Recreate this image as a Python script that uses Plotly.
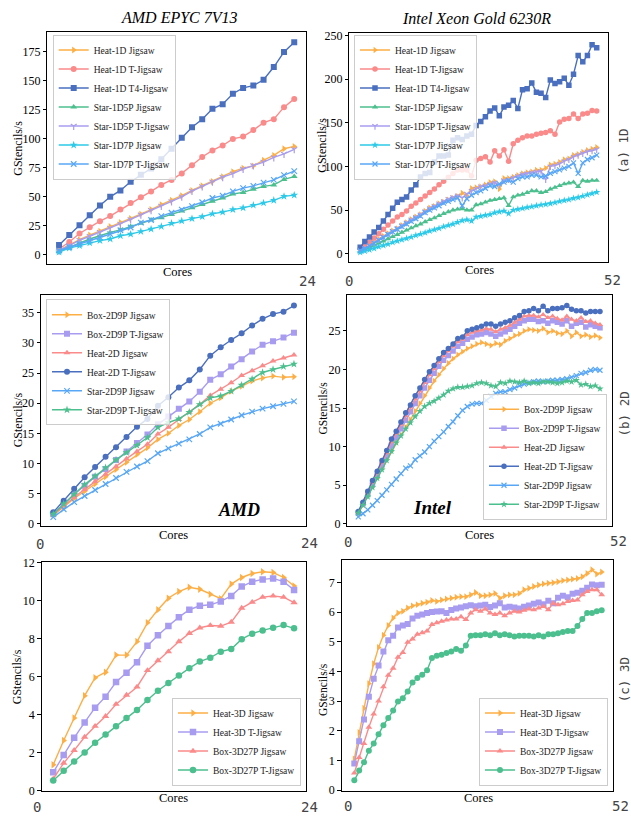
import plotly.graph_objects as go

W, H = 631, 826
SERIF = "Liberation Serif, Times New Roman, serif"
MONO = "DejaVu Sans Mono, monospace"

ORANGE = "#FDAF45"
SALMON = "#FB8A8A"
BLUE = "#4A6FBF"
GREEN = "#4CBF8E"
LAVENDER = "#A89CF0"
CYAN = "#2CCAE8"
LIGHTBLUE = "#58A7F7"

# ---------------- data ----------------
cores_amd = list(range(1, 25))
cores_intel = list(range(1, 53))

# (a) 1D, AMD
amd1d_heat_jig = [3.7, 8.5, 13, 17, 20.4, 24.4, 27.8, 31.4, 35.1, 39, 43.3, 47, 51, 55.5, 59.5, 63.2,
                  67.4, 71.7, 74.8, 76.7, 81.6, 85.8, 91.5, 93.5]
amd1d_heat_tj = [5, 11, 18.4, 23.8, 29, 33.4, 39, 44.7, 49.6, 54.7, 60.3, 64.6, 70.2, 77.3, 84.4, 90,
                 94.3, 100, 102, 107.6, 114, 117, 127.4, 134.5]
amd1d_heat_t4 = [8.5, 17, 25.5, 34, 42.5, 50, 55.5, 63, 69, 74.5, 82.4, 91.5, 101, 110, 117, 126,
                 130, 139, 144, 146, 151, 162, 175, 183.5]
amd1d_star5_jig = [2.8, 6.5, 10.2, 13.6, 16.4, 19.3, 21.5, 24.4, 27.2, 30, 32, 34.8, 37.7, 40.5, 43.3,
                   46.2, 49, 52.4, 53.8, 56.6, 59, 60.3, 65, 67.5]
amd1d_star5_tj = [3.5, 8, 12.5, 16, 19.5, 23, 26.5, 30.5, 34.5, 38.5, 42, 46, 50, 55, 59, 63, 67, 70,
                  74, 77, 80, 84, 87, 91]
amd1d_star7_jig = [2.3, 5.7, 7.9, 10.2, 12.2, 13.6, 16.4, 17.8, 20.1, 22.1, 24.4, 27.2, 29.2, 31.2,
                   32.9, 35.4, 36.8, 39, 40.5, 42.8, 44.7, 47, 50.4, 51.5]
amd1d_star7_tj = [3.7, 6.5, 9.3, 12.2, 15, 17.8, 21.2, 23.5, 27.8, 30, 33.4, 36.3, 39, 42, 45.3, 49,
                  51, 54.7, 57.5, 59.5, 62.3, 64.6, 68.8, 72.2]

# (a) 1D, Intel
intel1d_heat_jig = [3.8, 6.4, 9.4, 13.2, 16.9, 20, 23.3, 26.3, 29, 32.7, 35.7, 39.5, 42.5, 45, 49, 52.6,
                    54.5, 57.5, 59.4, 62, 64, 66, 69.5, 66.5, 75, 76, 77, 79, 82, 82.7, 74, 86.5,
                    86.5, 88, 90, 92, 93, 94, 96, 96, 98, 102, 103, 105, 108, 109, 113, 114, 116.5,
                    118.5, 120, 122]
intel1d_heat_tj = [5.7, 9, 13, 18, 23, 28, 33, 37.6, 42, 45, 49, 54.5, 58, 62, 66, 70, 74, 79, 83, 87.6,
                   92, 96, 96, 96, 89, 107, 109, 111, 105, 118, 112, 119, 106, 126, 130, 133, 135,
                   135, 137, 138, 139, 141, 137, 151, 154, 155, 160, 155, 160, 161, 164, 163.5]
intel1d_heat_t4 = [7.5, 14, 19, 25, 30, 37.6, 45, 52, 59, 62, 65, 73, 79, 88, 92, 93, 105, 112, 112,
                   113, 130, 133, 131, 135, 137, 147, 151.5, 157, 163.5, 167, 158, 168, 170, 175.6,
                   166.5, 188, 189, 195.5, 185, 184, 179, 199, 195, 197, 201, 193, 205.6, 227, 220,
                   227, 239.5, 236]
intel1d_star5_jig = [2, 4.5, 7, 9.5, 12, 14.5, 17, 19.5, 22, 24.5, 27, 29.5, 32, 34, 36.5, 39, 41, 43.5,
                     46, 48, 50, 51, 51.5, 50, 50, 56, 57, 59, 61, 62, 63, 64, 55, 65, 67, 68, 70, 72,
                     72, 70, 71, 74, 76, 78, 80, 81, 82, 77, 84, 83, 84, 84]
intel1d_star5_tj = [3.5, 6.2, 9.2, 12.8, 16.5, 19.7, 23, 26, 29, 32.5, 35.7, 39, 42, 45, 48.5, 52, 54.5,
                    57.5, 60, 62.5, 64.5, 66.5, 64, 68.5, 72, 74.5, 77, 78, 80, 81.5, 79, 84, 85, 87,
                    89, 91, 92, 93, 94, 94.5, 85, 100, 101, 103, 106, 108, 111, 113, 115, 117, 118,
                    119.5]
intel1d_star7_jig = [1.5, 3, 4.5, 6, 8, 9.5, 11, 13, 14.5, 16, 17.5, 19, 21, 22.5, 24, 26, 27.5, 29, 31,
                     32.5, 34, 36, 38, 39, 37.5, 42, 43, 44, 45, 47, 48, 49, 46, 50, 51, 52, 53, 54,
                     55, 56, 56.5, 57.5, 58.5, 60, 61, 62, 63.5, 64.5, 66, 67.5, 69, 70.5]
intel1d_star7_tj = [3.5, 6, 9, 12, 15.5, 18.5, 22, 25, 28, 31, 34, 37, 40, 43, 47, 50, 52.5, 55, 58, 60,
                    62, 64, 55, 63, 67, 70, 72, 75, 78, 77, 80, 82, 84, 82, 86, 88, 88, 90, 90, 88,
                    89, 92, 94, 96, 98, 100, 104, 92, 104, 108, 110, 113]

# (b) 2D, AMD
amd2d_box_jig = [1.4, 2.8, 4.2, 5.4, 6.6, 7.8, 9.0, 10.2, 11.5, 12.6, 14.0, 15.0, 16.3, 17.3, 18.6,
                 20.0, 20.9, 22.0, 22.8, 23.7, 24.2, 24.5, 24.3, 24.4]
amd2d_box_tj = [1.6, 3.3, 4.9, 6.3, 7.8, 9.1, 10.6, 12.0, 13.4, 14.8, 16.5, 17.8, 19.1, 20.3, 21.9,
                23.9, 24.8, 26.1, 27.3, 28.6, 29.7, 30.3, 30.9, 31.7]
amd2d_heat_jig = [1.5, 3.0, 4.4, 5.7, 7.0, 8.2, 9.5, 10.8, 12.0, 13.2, 14.9, 16.0, 17.3, 18.5, 19.8,
                  21.3, 22.3, 23.4, 24.6, 25.4, 26.2, 27.0, 27.5, 28.0]
amd2d_heat_tj = [1.9, 3.8, 5.8, 7.7, 9.4, 11.1, 12.7, 14.4, 16.1, 17.4, 19.6, 21.0, 22.6, 23.8, 25.6,
                 27.9, 29.3, 30.5, 31.6, 32.9, 34.0, 34.8, 35.2, 36.2]
amd2d_star_jig = [1.1, 2.4, 3.6, 4.6, 5.6, 6.6, 7.6, 8.6, 9.5, 10.4, 11.7, 12.5, 13.3, 14.0, 14.9,
                  16.0, 16.6, 17.3, 18.0, 18.6, 19.1, 19.5, 19.9, 20.3]
amd2d_star_tj = [1.6, 3.3, 4.9, 6.5, 7.9, 9.3, 10.6, 11.8, 13.0, 14.3, 16.0, 16.8, 17.4, 18.5, 19.8,
                 20.9, 21.2, 22.0, 23.0, 24.0, 25.1, 25.6, 26.1, 26.5]

# (b) 2D, Intel
intel2d_box_jig = [1.3, 2.4, 3.6, 4.8, 5.9, 7.1, 8.3, 9.4, 10.5, 11.5, 12.5, 13.5, 14.6, 15.6, 16.6,
                   17.6, 18.5, 19.3, 20.1, 20.8, 21.4, 21.9, 22.3, 22.7, 23.0, 23.3, 23.5, 23.3, 23.1,
                   23.4, 23.2, 23.7, 24.0, 24.4, 24.6, 25.0, 25.2, 25.1, 25.0, 25.3, 24.8, 25.0, 24.7,
                   24.6, 25.0, 24.3, 24.8, 24.3, 24.5, 24.2, 24.4, 24.1]
intel2d_box_tj = [1.4, 2.6, 3.8, 5.1, 6.3, 7.6, 8.8, 10.1, 11.2, 12.3, 13.4, 14.5, 15.6, 16.6, 17.6,
                  18.6, 19.5, 20.4, 21.2, 21.8, 22.4, 23.0, 23.4, 23.9, 24.2, 24.5, 24.6, 24.8, 24.6,
                  24.3, 24.6, 24.9, 25.2, 25.6, 26.0, 26.3, 26.5, 26.5, 26.2, 26.3, 26.0, 26.3, 26.1,
                  25.9, 26.3, 25.6, 26.0, 26.1, 25.5, 25.8, 25.6, 25.4]
intel2d_heat_jig = [1.5, 2.7, 4.0, 5.4, 6.6, 8.0, 9.2, 10.6, 11.7, 12.9, 14.0, 15.1, 16.2, 17.2, 18.3,
                    19.3, 20.1, 21.0, 21.8, 22.4, 23.0, 23.6, 23.9, 24.5, 24.8, 25.0, 25.1, 25.3, 25.2,
                    24.9, 25.2, 25.4, 25.7, 26.1, 26.5, 26.9, 27.0, 27.0, 26.8, 27.1, 26.7, 26.9, 26.6,
                    26.4, 26.9, 26.5, 26.3, 26.7, 26.2, 26.3, 26.0, 25.8]
intel2d_heat_tj = [1.6, 2.8, 4.2, 5.6, 6.8, 8.2, 9.5, 11.0, 12.0, 13.2, 14.4, 15.4, 16.6, 17.6, 18.7,
                   19.7, 20.5, 21.4, 22.2, 22.7, 23.3, 24.0, 24.2, 25.0, 25.2, 25.4, 25.6, 25.9, 25.9,
                   25.6, 25.9, 26.1, 26.3, 26.7, 27.0, 27.5, 27.6, 27.9, 27.6, 28.2, 27.6, 27.9, 27.9,
                   28.0, 28.3, 27.8, 27.6, 27.6, 27.3, 27.5, 27.5, 27.5]
intel2d_star_jig = [0.9, 1.3, 1.8, 2.4, 3.0, 3.7, 4.4, 5.1, 5.8, 6.5, 7.2, 7.5, 8.3, 8.8, 9.3, 10.0,
                    10.7, 11.3, 11.9, 12.6, 13.2, 14.0, 14.7, 15.2, 15.5, 15.6, 15.6, 16.0, 16.5, 16.9,
                    17.1, 17.1, 17.4, 17.6, 17.9, 18.1, 18.3, 18.4, 18.5, 18.4, 18.5, 18.6, 18.6, 18.7,
                    18.8, 19.0, 19.2, 19.5, 19.6, 19.9, 20.0, 19.9]
intel2d_star_tj = [1.4, 2.4, 3.5, 4.7, 5.9, 7.0, 8.2, 9.4, 10.5, 11.4, 12.3, 13.1, 13.9, 14.6, 15.2,
                   15.6, 15.9, 16.3, 16.7, 17.2, 17.5, 17.7, 17.7, 17.8, 17.9, 18.2, 18.3, 18.2, 17.9,
                   17.8, 18.3, 18.2, 18.5, 18.4, 18.3, 18.5, 18.2, 18.3, 18.2, 18.4, 18.4, 18.3, 18.2,
                   18.3, 18.5, 18.4, 18.6, 18.0, 18.1, 17.8, 17.9, 17.5]

# (c) 3D, AMD
amd3d_heat_jig = [1.35, 2.63, 3.81, 4.99, 5.94, 6.23, 7.13, 7.13, 7.84, 8.83, 9.52, 10.13, 10.48, 10.7,
                  10.6, 10.34, 10.1, 10.87, 11.22, 11.43, 11.52, 11.48, 11.22, 10.77]
amd3d_heat_tj = [0.95, 1.87, 2.77, 3.58, 4.36, 4.94, 5.71, 6.2, 6.75, 7.62, 8.17, 8.66, 9.13, 9.52,
                 9.73, 9.78, 9.96, 10.25, 10.74, 11.0, 11.12, 11.17, 11.0, 10.56]
amd3d_box_jig = [0.6, 1.44, 2.11, 2.81, 3.38, 3.9, 4.54, 5.02, 5.45, 6.32, 6.84, 7.31, 7.84, 8.28, 8.57,
                 8.69, 8.66, 8.87, 9.61, 9.92, 10.18, 10.25, 10.18, 9.9]
amd3d_box_tj = [0.52, 1.04, 1.52, 1.99, 2.51, 2.94, 3.38, 3.81, 4.24, 4.76, 5.25, 5.66, 6.06, 6.44, 6.79,
                6.99, 7.31, 7.45, 7.97, 8.26, 8.43, 8.57, 8.71, 8.54]

# (c) 3D, Intel
intel3d_heat_jig = [1.05, 1.94, 2.76, 3.59, 4.26, 4.81, 5.22, 5.55, 5.8, 5.97, 6.03, 6.14, 6.21, 6.25,
                    6.3, 6.33, 6.39, 6.36, 6.41, 6.44, 6.47, 6.5, 6.52, 6.52, 6.58, 6.66, 6.55, 6.55,
                    6.58, 6.63, 6.47, 6.55, 6.58, 6.58, 6.63, 6.75, 6.8, 6.86, 6.91, 6.95, 6.97, 6.99,
                    7.02, 7.06, 7.08, 7.11, 7.13, 7.19, 7.3, 7.43, 7.28, 7.35]
intel3d_heat_tj = [0.9, 1.65, 2.38, 3.15, 3.75, 4.2, 4.67, 5.05, 5.2, 5.48, 5.55, 5.6, 5.78, 5.88, 5.92,
                   5.97, 6.0, 6.02, 6.03, 5.97, 6.07, 6.12, 6.15, 6.2, 6.23, 6.2, 6.22, 6.25, 6.17,
                   6.22, 6.3, 6.15, 6.18, 6.15, 6.12, 6.18, 6.22, 6.28, 6.32, 6.26, 6.38, 6.3, 6.48,
                   6.55, 6.5, 6.62, 6.65, 6.72, 6.82, 6.93, 6.9, 6.92]
intel3d_box_jig = [0.58, 1.1, 1.57, 2.12, 2.57, 3.0, 3.48, 3.87, 4.11, 4.48, 4.64, 4.98, 5.09, 5.25,
                   5.3, 5.36, 5.58, 5.64, 5.69, 5.73, 5.77, 5.77, 5.84, 5.75, 5.97, 6.08, 6.03, 6.1,
                   5.97, 5.92, 5.97, 5.88, 5.97, 6.03, 6.0, 6.06, 6.1, 6.08, 6.14, 6.19, 6.08, 6.3,
                   6.25, 6.28, 6.36, 6.39, 6.41, 6.58, 6.69, 6.75, 6.75, 6.58]
intel3d_box_tj = [0.33, 0.66, 0.94, 1.33, 1.57, 1.88, 2.19, 2.43, 2.68, 2.99, 3.1, 3.32, 3.63, 3.78,
                  3.89, 4.04, 4.45, 4.53, 4.56, 4.62, 4.67, 4.76, 4.7, 4.87, 5.2, 5.22, 5.22, 5.25,
                  5.22, 5.29, 5.22, 5.25, 5.22, 5.18, 5.2, 5.2, 5.2, 5.18, 5.22, 5.18, 5.25, 5.25,
                  5.29, 5.33, 5.36, 5.36, 5.53, 5.77, 5.97, 5.97, 6.03, 6.06]

y_ticks_1d_amd = [0, 25, 50, 75, 100, 125, 150, 175]
y_ticks_1d_intel = [0, 50, 100, 150, 200, 250]
y_ticks_2d_amd = [0, 5, 10, 15, 20, 25, 30, 35]
y_ticks_2d_intel = [0, 5, 10, 15, 20, 25]
y_ticks_3d_amd = [0, 2, 4, 6, 8, 10, 12]
y_ticks_3d_intel = [0, 1, 2, 3, 4, 5, 6, 7]

# ---------------- layout helpers ----------------
def fx(p):
    return p / W


def fy(p):
    return 1 - p / H


# panel frames in pixels: (left, right, top, bottom), x range, y range, tick values
panels = [
    ((47.3, 306.0, 26.7, 261.7), [-0.15, 25.15], [-7.6, 192.0], y_ticks_1d_amd),
    ((349.3, 608.3, 27.7, 260.0), [-1.35, 54.5], [-9.4, 252.6], y_ticks_1d_intel),
    ((41.0, 306.0, 294.0, 528.3), [-0.17, 25.15], [-0.37, 37.9], y_ticks_2d_amd),
    ((347.3, 611.7, 294.0, 528.3), [-1.32, 54.47], [-0.29, 29.6], y_ticks_2d_intel),
    ((41.7, 306.0, 565.0, 797.3), [-0.1, 25.14], [-0.02, 12.03], y_ticks_3d_amd),
    ((341.7, 612.7, 562.7, 797.3), [-1.6, 54.27], [-0.02, 7.76], y_ticks_3d_intel),
]

fig = go.Figure()
layout = dict(
    width=W, height=H, margin=dict(l=0, r=0, t=0, b=0),
    paper_bgcolor="white", plot_bgcolor="white", showlegend=True,
    font=dict(family=SERIF, size=12, color="black"),
)

for i, (frame, xr, yr, tv) in enumerate(panels):
    s = "" if i == 0 else str(i + 1)
    l, r, t, b = frame
    layout["xaxis" + s] = dict(
        domain=[fx(l), fx(r)], range=xr, anchor="y" + s,
        showticklabels=False, ticks="", showgrid=False, zeroline=False,
        showline=True, mirror=True, linecolor="black", linewidth=1,
    )
    layout["yaxis" + s] = dict(
        domain=[fy(b), fy(t)], range=yr, anchor="x" + s,
        tickmode="array", tickvals=tv, ticks="outside", ticklen=3.5, tickwidth=1,
        tickcolor="black", tickfont=dict(family=SERIF, size=12, color="black"),
        showgrid=False, zeroline=False,
        showline=True, mirror=True, linecolor="black", linewidth=1,
    )

LINE_SYMBOLS = {"x-thin", "y-down", "cross-thin"}


def add(panel, x, y, name, color, symbol, size=6):
    s = "" if panel == 0 else str(panel + 1)
    leg = "legend" if panel == 0 else "legend" + str(panel + 1)
    if symbol in LINE_SYMBOLS:
        marker = dict(symbol=symbol, size=size, color=color, line=dict(width=1.2, color=color))
    else:
        marker = dict(symbol=symbol, size=size, color=color, line=dict(width=0))
    fig.add_trace(go.Scatter(
        x=x, y=y, name=name, mode="lines+markers", xaxis="x" + s, yaxis="y" + s,
        line=dict(color=color, width=1.4), marker=marker, legend=leg,
    ))


# (a) 1D AMD
add(0, cores_amd, amd1d_heat_jig, "Heat-1D Jigsaw", ORANGE, "triangle-right")
add(0, cores_amd, amd1d_heat_tj, "Heat-1D T-Jigsaw", SALMON, "circle")
add(0, cores_amd, amd1d_heat_t4, "Heat-1D T4-Jigsaw", BLUE, "square")
add(0, cores_amd, amd1d_star5_jig, "Star-1D5P Jigsaw", GREEN, "triangle-up")
add(0, cores_amd, amd1d_star5_tj, "Star-1D5P T-Jigsaw", LAVENDER, "y-down", 5)
add(0, cores_amd, amd1d_star7_jig, "Star-1D7P Jigsaw", CYAN, "star")
add(0, cores_amd, amd1d_star7_tj, "Star-1D7P T-Jigsaw", LIGHTBLUE, "x-thin", 5.5)
# (a) 1D Intel
ms = 5.5
add(1, cores_intel, intel1d_heat_jig, "Heat-1D Jigsaw", ORANGE, "triangle-right", ms)
add(1, cores_intel, intel1d_heat_tj, "Heat-1D T-Jigsaw", SALMON, "circle", ms)
add(1, cores_intel, intel1d_heat_t4, "Heat-1D T4-Jigsaw", BLUE, "square", ms)
add(1, cores_intel, intel1d_star5_jig, "Star-1D5P Jigsaw", GREEN, "triangle-up", ms)
add(1, cores_intel, intel1d_star5_tj, "Star-1D5P T-Jigsaw", LAVENDER, "y-down", 4.5)
add(1, cores_intel, intel1d_star7_jig, "Star-1D7P Jigsaw", CYAN, "star", ms)
add(1, cores_intel, intel1d_star7_tj, "Star-1D7P T-Jigsaw", LIGHTBLUE, "x-thin", 5)
# (b) 2D AMD
add(2, cores_amd, amd2d_box_jig, "Box-2D9P Jigsaw", ORANGE, "triangle-right")
add(2, cores_amd, amd2d_box_tj, "Box-2D9P T-Jigsaw", LAVENDER, "square")
add(2, cores_amd, amd2d_heat_jig, "Heat-2D Jigsaw", SALMON, "triangle-up")
add(2, cores_amd, amd2d_heat_tj, "Heat-2D T-Jigsaw", BLUE, "circle")
add(2, cores_amd, amd2d_star_jig, "Star-2D9P Jigsaw", LIGHTBLUE, "x-thin", 5.5)
add(2, cores_amd, amd2d_star_tj, "Star-2D9P T-Jigsaw", GREEN, "star")
# (b) 2D Intel
add(3, cores_intel, intel2d_box_jig, "Box-2D9P Jigsaw", ORANGE, "triangle-right", ms)
add(3, cores_intel, intel2d_box_tj, "Box-2D9P T-Jigsaw", LAVENDER, "square", ms)
add(3, cores_intel, intel2d_heat_jig, "Heat-2D Jigsaw", SALMON, "triangle-up", ms)
add(3, cores_intel, intel2d_heat_tj, "Heat-2D T-Jigsaw", BLUE, "circle", ms)
add(3, cores_intel, intel2d_star_jig, "Star-2D9P Jigsaw", LIGHTBLUE, "x-thin", 5)
add(3, cores_intel, intel2d_star_tj, "Star-2D9P T-Jigsaw", GREEN, "star", ms)
# (c) 3D AMD
add(4, cores_amd, amd3d_heat_jig, "Heat-3D Jigsaw", ORANGE, "triangle-right", 6.5)
add(4, cores_amd, amd3d_heat_tj, "Heat-3D T-Jigsaw", LAVENDER, "square", 6.5)
add(4, cores_amd, amd3d_box_jig, "Box-3D27P Jigsaw", SALMON, "triangle-up", 6.5)
add(4, cores_amd, amd3d_box_tj, "Box-3D27P T-Jigsaw", GREEN, "circle", 6.5)
# (c) 3D Intel
add(5, cores_intel, intel3d_heat_jig, "Heat-3D Jigsaw", ORANGE, "triangle-right", 6)
add(5, cores_intel, intel3d_heat_tj, "Heat-3D T-Jigsaw", LAVENDER, "square", 6)
add(5, cores_intel, intel3d_box_jig, "Box-3D27P Jigsaw", SALMON, "triangle-up", 6)
add(5, cores_intel, intel3d_box_tj, "Box-3D27P T-Jigsaw", GREEN, "circle", 6)

# legends
leg_common = dict(bgcolor="rgba(255,255,255,0.8)", bordercolor="#cccccc", borderwidth=1,
                  font=dict(family=SERIF, size=9.5, color="#222222"), itemwidth=30,
                  tracegroupgap=0)
legend_pos = [
    (52.7, 29.0, "left", "top"),
    (354.0, 29.0, "left", "top"),
    (46.0, 298.0, "left", "top"),
    (607.0, 522.0, "right", "bottom"),
    (301.0, 792.0, "right", "bottom"),
    (608.0, 792.0, "right", "bottom"),
]
for i, (lx, ly, xa, ya) in enumerate(legend_pos):
    key = "legend" if i == 0 else "legend" + str(i + 1)
    layout[key] = dict(leg_common, x=fx(lx), y=fy(ly), xanchor=xa, yanchor=ya)

ann = []


def text(t, x, y, size, family=SERIF, color="black", angle=0):
    ann.append(dict(text=t, x=fx(x), y=fy(y), xref="paper", yref="paper", showarrow=False,
                    xanchor="center", yanchor="middle", textangle=angle,
                    font=dict(family=family, size=size, color=color)))


# column titles
text("<i>AMD EPYC 7V13</i>", 179, 12, 16)
text("<i>Intel Xeon Gold 6230R</i>", 476, 13, 16)
# axis titles
for (cx, cy) in [(177, 270), (479, 268), (173, 537), (479, 537), (173, 805), (478, 805)]:
    text("Cores", cx, cy, 12.5)
for (gx, gy, gs) in [(18, 145, 12), (322, 142, 12), (18, 421, 12), (323, 409, 11.5),
                     (17, 682, 12), (323, 695, 11.5)]:
    text("GStencils/s", gx, gy, gs, angle=-90)
# in-plot labels
text("<b><i>AMD</i></b>", 239, 512, 18)
text("<b><i>Intel</i></b>", 432, 510, 19)
# outer x labels
GRAY = "#444444"
for (t, x, y) in [("24", 307, 279), ("0", 349, 279), ("52", 612, 278),
                  ("0", 40, 547), ("24", 309, 546), ("0", 348, 545), ("52", 618, 544),
                  ("0", 37, 814), ("24", 309, 814), ("0", 348, 813), ("52", 620, 813)]:
    text(t, x, y, 14, family=MONO, color=GRAY)
# row labels
text("(a) 1D", 624, 148, 12.5, family=MONO, color=GRAY, angle=-90)
text("(b) 2D", 624, 415, 12.5, family=MONO, color=GRAY, angle=-90)
text("(c) 3D", 624, 685, 12.5, family=MONO, color=GRAY, angle=-90)

layout["annotations"] = ann
fig.update_layout(**layout)
fig.write_html(
    "out.html",
    config={"displayModeBar": False},
    post_script="document.body.style.margin='0';document.body.style.padding='0';"
                "document.body.style.overflow='hidden';",
)
